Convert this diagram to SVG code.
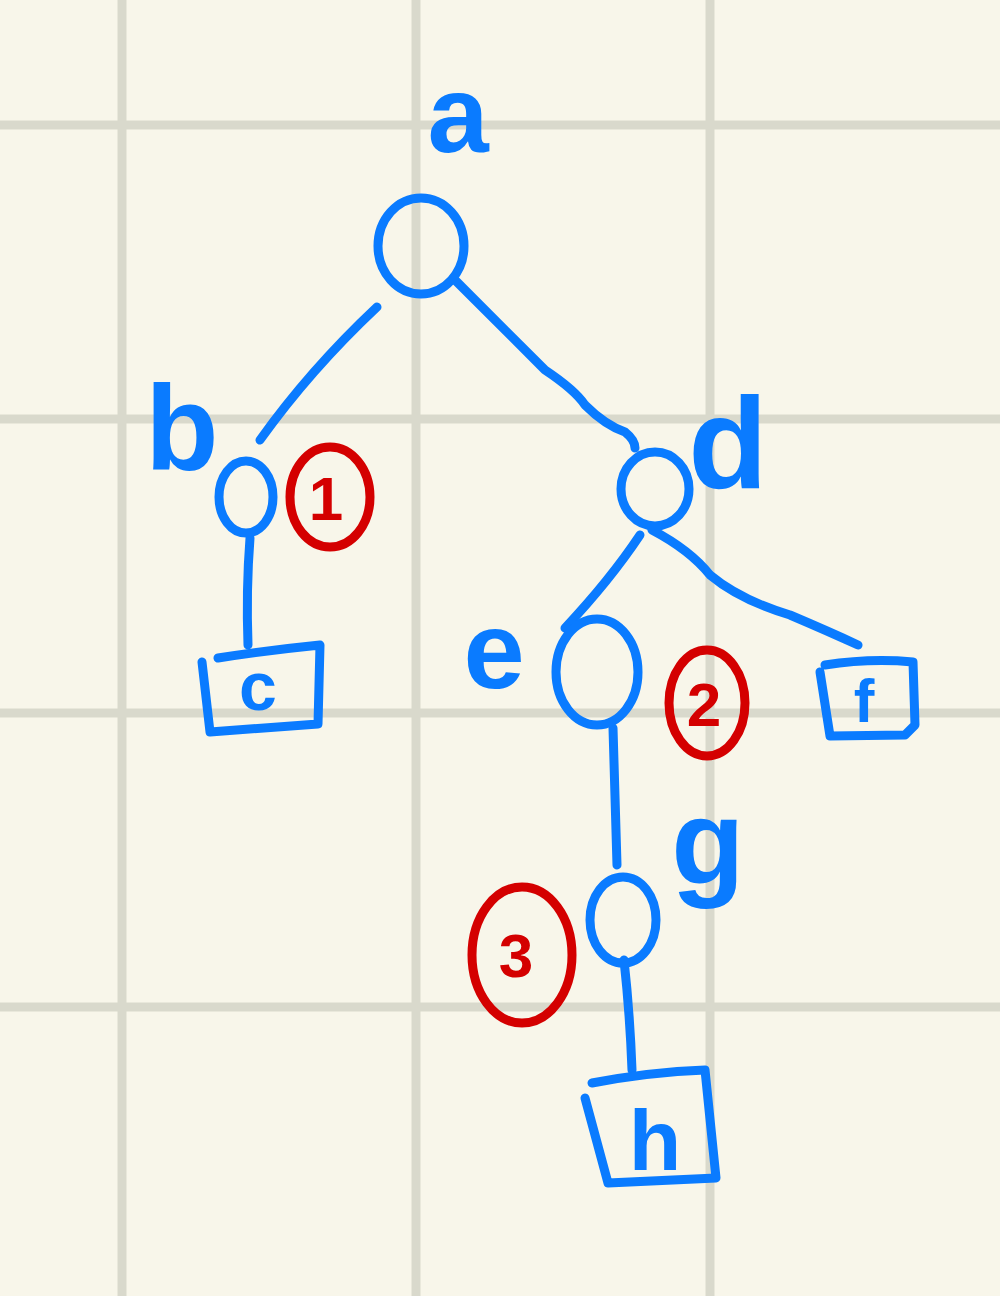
<svg xmlns="http://www.w3.org/2000/svg" width="1000" height="1296" viewBox="0 0 1000 1296">
<style>
.grid{stroke:#d9d9cc;stroke-width:9}
.b{fill:none;stroke:#0a7bff;stroke-width:9;stroke-linecap:round;stroke-linejoin:round}
.r{fill:none;stroke:#d40000;stroke-width:9;stroke-linecap:round;stroke-linejoin:round}
.bt{fill:#0a7bff;font-family:"Liberation Sans",Arial,sans-serif;font-weight:bold}
.rt{fill:#d40000;font-family:"Liberation Sans",Arial,sans-serif;font-size:62px;font-weight:bold;text-anchor:middle}
.lt{text-anchor:middle}
</style>
<rect width="1000" height="1296" fill="#f8f6ea"/>
<g id="grid">
<line class="grid" x1="122" y1="0" x2="122" y2="1296"/>
<line class="grid" x1="416" y1="0" x2="416" y2="1296"/>
<line class="grid" x1="710" y1="0" x2="710" y2="1296"/>
<line class="grid" x1="0" y1="125" x2="1000" y2="125"/>
<line class="grid" x1="0" y1="419" x2="1000" y2="419"/>
<line class="grid" x1="0" y1="713" x2="1000" y2="713"/>
<line class="grid" x1="0" y1="1007" x2="1000" y2="1007"/>
</g>
<g id="connectors">
<path class="b" d="M377 307 Q310 370 260 440"/>
<path class="b" d="M455 280 Q520 345 545 370 Q575 390 585 405 Q605 425 625 432 Q635 440 635 448"/>
<path class="b" d="M250 538 Q246 590 248 645"/>
<path class="b" d="M640 535 Q610 580 565 628"/>
<path class="b" d="M652 530 Q690 550 710 575 Q740 600 790 615 Q830 632 858 645"/>
<path class="b" d="M613 728 Q615 800 617 865"/>
<path class="b" d="M624 960 Q630 1015 632 1070"/>
</g>
<g id="node-a">
<ellipse class="b" cx="421" cy="246" rx="43" ry="48"/>
<text class="bt lt" x="458" y="152" font-size="110">a</text>
</g>
<g id="node-b">
<ellipse class="b" cx="246" cy="497" rx="27" ry="36"/>
<text class="bt lt" x="182" y="470" font-size="120">b</text>
</g>
<g id="label-1">
<ellipse class="r" cx="330" cy="497" rx="40" ry="50"/>
<text class="rt" x="326" y="520">1</text>
</g>
<g id="node-c">
<path class="b" d="M202 662 L210 732 L318 724 L320 645 Q270 650 218 658"/>
<text class="bt lt" x="258" y="710" font-size="68">c</text>
</g>
<g id="node-d">
<ellipse class="b" cx="655" cy="489" rx="34" ry="37"/>
<text class="bt lt" x="728" y="488" font-size="130">d</text>
</g>
<g id="node-e">
<ellipse class="b" cx="597" cy="672" rx="41" ry="53"/>
<text class="bt lt" x="494" y="688" font-size="110">e</text>
</g>
<g id="label-2">
<ellipse class="r" cx="707" cy="703" rx="38" ry="53"/>
<text class="rt" x="704" y="726">2</text>
</g>
<g id="node-f">
<path class="b" d="M820 672 L830 736 L905 735 L915 725 L913 662 Q870 658 825 665"/>
<text class="bt lt" x="864" y="722" font-size="62">f</text>
</g>
<g id="node-g">
<ellipse class="b" cx="623" cy="920" rx="33" ry="43"/>
<text class="bt lt" x="708" y="883" font-size="120">g</text>
</g>
<g id="label-3">
<ellipse class="r" cx="522" cy="955" rx="50" ry="68"/>
<text class="rt" x="516" y="977">3</text>
</g>
<g id="node-h">
<path class="b" d="M585 1098 L608 1183 L716 1178 L705 1070 Q650 1072 592 1083"/>
<text class="bt lt" x="655" y="1170" font-size="86">h</text>
</g>
</svg>
